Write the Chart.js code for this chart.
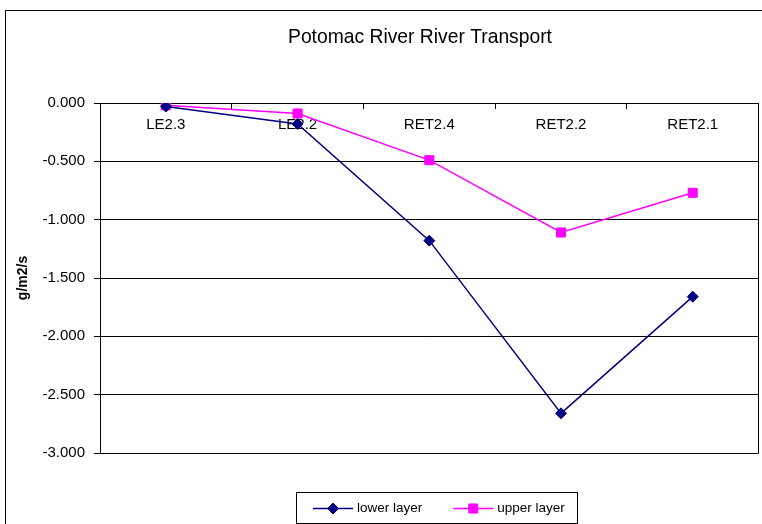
<!DOCTYPE html>
<html>
<head>
<meta charset="utf-8">
<script src="https://cdn.jsdelivr.net/npm/chart.js@4.4.0/dist/chart.umd.min.js"></script>
<style>
  html, body { margin: 0; padding: 0; background: #fff; overflow: hidden; }
  #frame {
    position: absolute; left: 5px; top: 10px;
    width: 780px; height: 530px;
    border: 1px solid #000;
  }
  #chart { display: block; }
</style>
</head>
<body>
<div id="frame">
  <canvas id="chart" width="760" height="513"></canvas>
</div>
<script>
// stations along the river
const stations = ['LE2.3', 'LE2.2', 'RET2.4', 'RET2.2', 'RET2.1'];

// transport, g/m2/s
const lowerLayer = [-0.03, -0.18, -1.18, -2.66, -1.66];
const upperLayer = [-0.02, -0.09, -0.49, -1.11, -0.77];

const chartTitle = 'Potomac River River Transport';
const yTitle = 'g/m2/s';

const FONT = '"Liberation Sans", Arial, sans-serif';

// draw one legend marker with the dataset colours
function legendMarker(ctx, ds, x, y) {
    ctx.save();
    ctx.fillStyle = ds.backgroundColor;
    ctx.strokeStyle = ds.borderColor;
    ctx.lineWidth = 1;
    Chart.helpers.drawPoint(ctx, { pointStyle: ds.pointStyle, radius: ds.pointRadius, borderWidth: 1 }, x, y);
    ctx.restore();
}

// --- title, right plot border and boxed legend (Excel look) ---
const excelExtras = {
    id: 'excelExtras',
    afterDraw(chart) {
        const ctx = chart.ctx;
        const area = chart.chartArea;
        ctx.save();

        // plot area right edge
        ctx.strokeStyle = '#000';
        ctx.lineWidth = 1;
        ctx.beginPath();
        ctx.moveTo(Math.round(area.right) - 0.5, area.top);
        ctx.lineTo(Math.round(area.right) - 0.5, area.bottom);
        ctx.stroke();

        // title
        ctx.fillStyle = '#000';
        ctx.font = '19.3px ' + FONT;
        ctx.textAlign = 'center';
        ctx.textBaseline = 'middle';
        ctx.fillText(chartTitle, 414, 27);

        // legend box
        const box = { x: 290, y: 481, w: 281, h: 31 };
        ctx.strokeRect(box.x + 0.5, box.y + 0.5, box.w, box.h);
        ctx.font = '13.5px ' + FONT;
        ctx.textAlign = 'left';
        const cy = box.y + box.h / 2 + 1;
        let x = box.x + 17;
        chart.data.datasets.forEach(ds => {
            ctx.strokeStyle = ds.borderColor;
            ctx.lineWidth = 1.5;
            ctx.beginPath();
            ctx.moveTo(x, cy);
            ctx.lineTo(x + 40, cy);
            ctx.stroke();
            legendMarker(ctx, ds, x + 20, cy);
            ctx.fillStyle = '#000';
            ctx.fillText(ds.label, x + 44, cy);
            x += 44 + ctx.measureText(ds.label).width + 31;
        });
        ctx.restore();
    }
};

const datasets = [
    {
        label: 'lower layer',
        data: lowerLayer,
        borderColor: '#000080',
        backgroundColor: '#000080',
        borderWidth: 1.5,
        pointStyle: 'rectRot',
        pointRadius: 5.5,
        pointBorderWidth: 1,
        tension: 0
    },
    {
        label: 'upper layer',
        data: upperLayer,
        borderColor: '#ff00ff',
        backgroundColor: '#ff00ff',
        borderWidth: 1.5,
        pointStyle: 'rect',
        pointRadius: 6.4,
        pointBorderWidth: 1,
        tension: 0
    }
];

new Chart(document.getElementById('chart').getContext('2d'), {
    type: 'line',
    data: { labels: stations, datasets: datasets },
    options: {
        responsive: false,
        animation: false,
        layout: { padding: { top: 92, bottom: 71, left: 0, right: 2 } },
        plugins: {
            legend: { display: false },
            title: { display: false },
            tooltip: { enabled: false }
        },
        scales: {
            x: {
                type: 'category',
                position: { y: 0 },
                offset: true,
                grid: {
                    display: true,
                    offset: true,
                    drawOnChartArea: false,
                    drawTicks: true,
                    tickLength: 5,
                    color: '#000'
                },
                border: { display: true, color: '#000', width: 1 },
                ticks: {
                    color: '#000',
                    padding: 8,
                    maxRotation: 0,
                    font: { family: FONT, size: 15 }
                }
            },
            y: {
                min: -3,
                max: 0,
                afterFit(scale) { scale.width = 94; },
                grid: {
                    color: '#000',
                    lineWidth: 1,
                    tickLength: 6,
                    drawTicks: true
                },
                border: { display: true, color: '#000', width: 1 },
                ticks: {
                    stepSize: 0.5,
                    color: '#000',
                    padding: 9,
                    font: { family: FONT, size: 15 },
                    callback: v => v.toFixed(3)
                },
                title: {
                    display: true,
                    text: yTitle,
                    color: '#000',
                    padding: { top: 9, bottom: 0 },
                    font: { family: FONT, size: 14, weight: 'bold' }
                }
            }
        }
    },
    plugins: [excelExtras]
});
</script>
</body>
</html>
